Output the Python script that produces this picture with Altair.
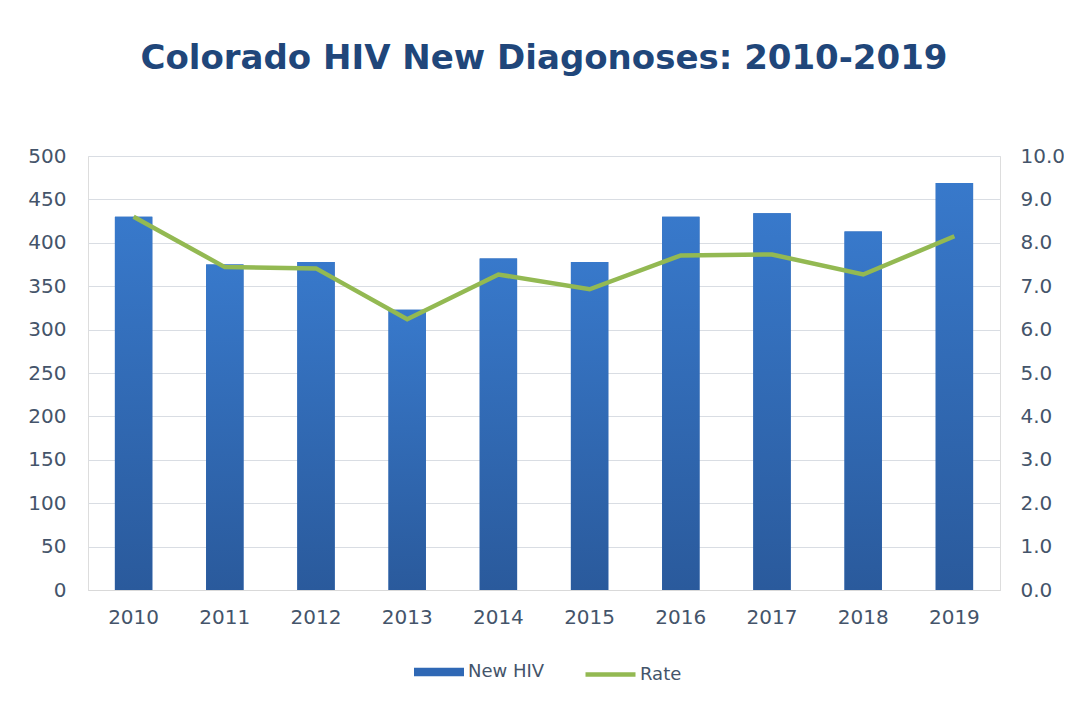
import altair as alt
import pandas as pd

years = ["2010", "2011", "2012", "2013", "2014", "2015", "2016", "2017", "2018", "2019"]
new_hiv = [430, 375, 378, 323, 382, 378, 430, 434, 413, 469]
rate = [8.6, 7.44, 7.41, 6.24, 7.27, 6.93, 7.71, 7.73, 7.27, 8.15]

df = pd.DataFrame({"Year": years, "New HIV": new_hiv, "Rate": rate})

TEXT = "#44546A"
FONT = "DejaVu Sans"

x = alt.X("Year:N", sort=years, title=None,
          scale=alt.Scale(paddingInner=0.59, paddingOuter=0.295),
          axis=alt.Axis(labelAngle=0, ticks=False, domain=True, domainColor="#d9d9d9",
                        labelPadding=17, labelFontSize=20, labelColor=TEXT, labelFont=FONT))

y_left = alt.Y("New HIV:Q", title=None,
               scale=alt.Scale(domain=[0, 500], nice=False),
               axis=alt.Axis(values=list(range(0, 501, 50)), ticks=False, domain=False,
                             labelPadding=22, labelFontSize=20, labelColor=TEXT, labelFont=FONT,
                             grid=True, gridColor="#d9dde3", gridWidth=1))

base = alt.Chart(df)

bars_legend = base.mark_bar().encode(
    x=x,
    y=y_left,
    fill=alt.Fill("s:N", scale=alt.Scale(domain=["New HIV"], range=["#2f68b5"]),
                  legend=alt.Legend(title=None, orient="none", legendX=326, legendY=491,
                                    symbolType="M-1,-0.17L1,-0.17L1,0.17L-1,0.17Z",
                                    symbolSize=2500, symbolStrokeWidth=0,
                                    labelFontSize=18, labelColor=TEXT, labelFont=FONT,
                                    labelOffset=4, padding=0)),
).transform_calculate(s="'New HIV'")

bars = base.mark_bar(
    color=alt.Gradient(
        gradient="linear",
        stops=[alt.GradientStop(color="#3879cb", offset=0),
               alt.GradientStop(color="#2a5a9c", offset=1)],
        x1=0, x2=0, y1=0, y2=1)
).encode(x=alt.X("Year:N", sort=years), y=alt.Y("New HIV:Q"))

line = base.mark_line(strokeWidth=4.5).encode(
    x=alt.X("Year:N", sort=years),
    y=alt.Y("Rate:Q", title=None,
            scale=alt.Scale(domain=[0, 10], nice=False),
            axis=alt.Axis(orient="right", values=list(range(0, 11)), format=".1f",
                          ticks=False, domain=False, grid=False,
                          labelPadding=20, labelFontSize=20, labelColor=TEXT, labelFont=FONT)),
    stroke=alt.Stroke("r:N", scale=alt.Scale(domain=["Rate"], range=["#93b952"]),
                      legend=alt.Legend(title=None, orient="none", legendX=495, legendY=491,
                                        symbolType="stroke", symbolSize=2500,
                                        symbolStrokeWidth=4.5,
                                        labelFontSize=18, labelColor=TEXT, labelFont=FONT,
                                        labelOffset=2, padding=0)),
).transform_calculate(r="'Rate'")

chart = alt.layer(
    alt.layer(bars_legend, bars),
    line,
).resolve_scale(y="independent", fill="independent", stroke="independent").properties(
    width=912,
    height=434,
    autosize=alt.AutoSizeParams(type="none"),
    padding={"left": 80, "top": 148, "right": 64, "bottom": 100},
    title=alt.Title("Colorado HIV New Diagonoses: 2010-2019", fontSize=34, font=FONT,
                    fontWeight="bold", color="#20467a", anchor="middle", offset=70),
).configure_view(stroke=None).configure(background="white")

chart.save("out.html", embed_options={"renderer": "svg", "actions": False})
